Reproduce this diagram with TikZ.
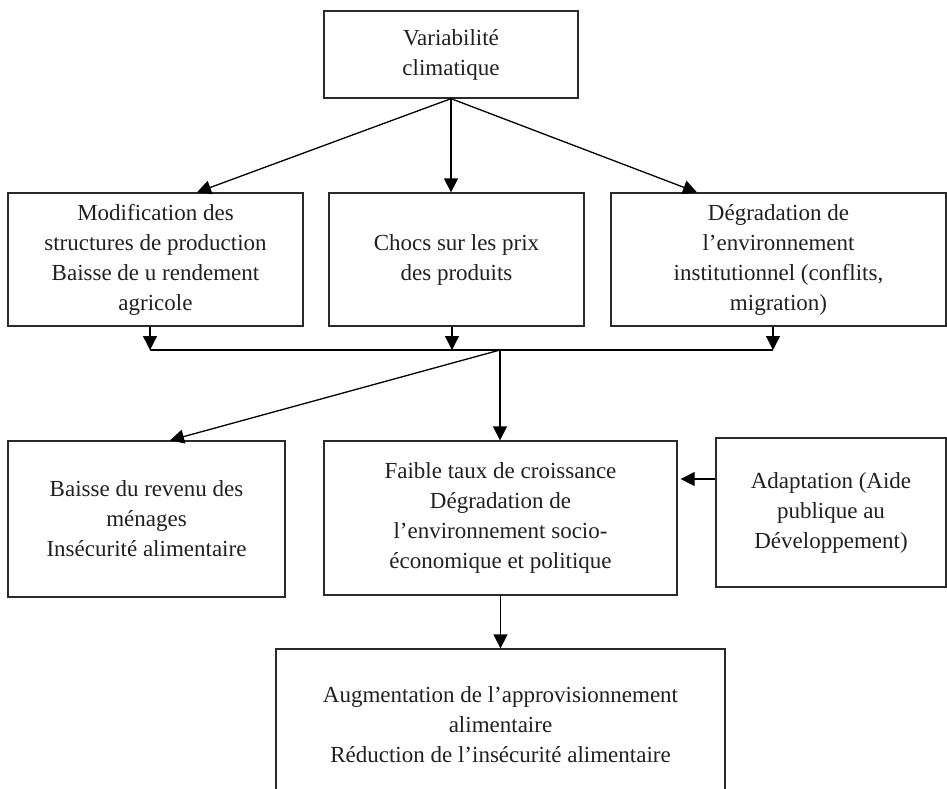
\documentclass[tikz,border=0pt]{standalone}
\usepackage{fontspec}
\setmainfont{Liberation Serif}
\usetikzlibrary{arrows.meta,calc}
\definecolor{txt}{HTML}{231F20}
\definecolor{bord}{HTML}{2A2A2A}
\begin{document}
\begin{tikzpicture}[x=1pt,y=-1pt,
  box/.style={draw=bord,line width=1.3pt,rectangle,inner sep=0pt,align=center,
    text=txt,font=\fontsize{23}{30}\selectfont},
  arr/.style={line width=1.3pt,-{Triangle[width=14pt,length=14pt]}},
  ln/.style={line width=1.3pt}]
\useasboundingbox (0,0) rectangle (947,789);
\clip (0,0) rectangle (947,789);
\fill[white] (0,0) rectangle (947,789);
\node[box,minimum width=254pt,minimum height=87pt] (top) at (451,54.5) {Variabilité\\climatique};
\node[box,minimum width=295pt,minimum height=133pt] (m1) at (155.5,259.5) {Modification des\\structures de production\\Baisse de u rendement\\agricole};
\node[box,minimum width=255pt,minimum height=133pt] (m2) at (456.5,259.5) {Chocs sur les prix\\des produits};
\node[box,minimum width=335pt,minimum height=133pt] (m3) at (778.5,259.5) {Dégradation de\\l’environnement\\institutionnel (conflits,\\migration)};
\node[box,minimum width=277pt,minimum height=156pt] (b1) at (146.5,519) {Baisse du revenu des\\ménages\\Insécurité alimentaire};
\node[box,minimum width=353pt,minimum height=154pt] (b2) at (500.5,518) {Faible taux de croissance\\Dégradation de\\l’environnement socio-\\économique et politique};
\node[box,minimum width=230pt,minimum height=149pt] (b3) at (831,512.5) {Adaptation (Aide\\publique au\\Développement)};
\node[box,minimum width=449pt,minimum height=152pt] (bot) at (500.5,725) {Augmentation de l’approvisionnement\\alimentaire\\Réduction de l’insécurité alimentaire};
% top fan-out
\draw[arr] (top.south) -- ([xshift=41.5pt]m1.north);
\draw[arr] (top.south) -- (top.south |- m2.north);
\draw[arr] (top.south) -- ([xshift=-81.5pt]m3.north);
% collector line
\coordinate (J) at (500,350);
\coordinate (c1) at ([xshift=-5.5pt]m1.south |- J);
\coordinate (c3) at ([xshift=-5.5pt]m3.south |- J);
\draw[arr] ([xshift=-5.5pt]m1.south) -- (c1);
\draw[arr] ([xshift=-4.5pt]m2.south) -- ([xshift=-4.5pt]m2.south |- J);
\draw[arr] ([xshift=-5.5pt]m3.south) -- (c3);
\draw[ln] (c1) -- (c3);
% to row 3
\draw[arr] (J) -- ([xshift=23.5pt]b1.north);
\draw[arr] (J) -- (J |- b2.north);
\draw[arr,shorten >=3pt] ([yshift=33.5pt]b3.west) -- ([yshift=33.5pt]b3.west -| b2.east);
% to bottom
\draw[arr] (b2.south) -- (b2.south |- bot.north);
\end{tikzpicture}
\end{document}
